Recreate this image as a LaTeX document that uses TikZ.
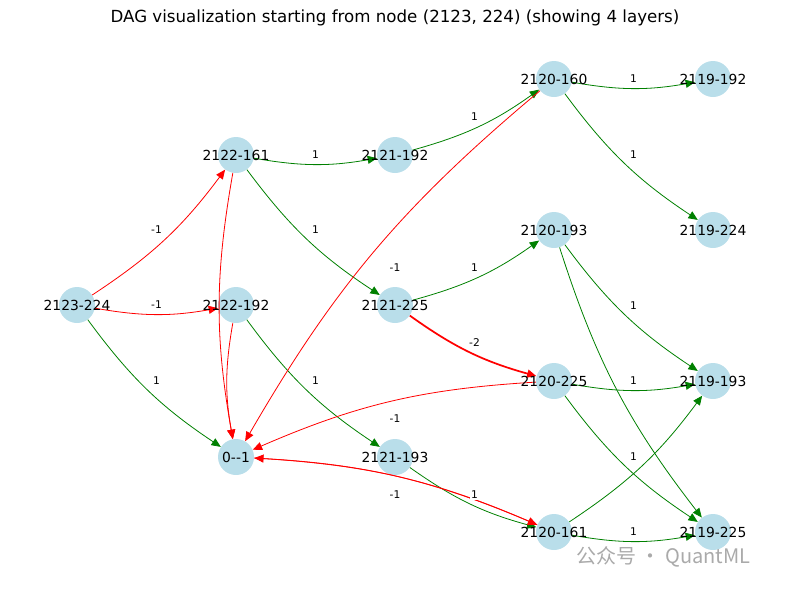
\documentclass[tikz,border=0pt]{standalone}
\usepackage{fontspec}
\setmainfont{DejaVu Sans}
\newfontfamily\cjk{Noto Sans CJK SC}
\usetikzlibrary{arrows.meta,calc}
\definecolor{nodeblue}{RGB}{173,216,230}
\definecolor{mgreen}{RGB}{0,128,0}
\definecolor{wmgray}{RGB}{170,170,170}
\tikzset{
  vtx/.style={circle,fill=nodeblue,fill opacity=0.85,minimum size=27pt,inner sep=0pt},
  vtxt/.style={font=\fontsize{10.4}{12}\selectfont,inner sep=0pt},
  posE/.style={draw=mgreen,line width=0.6pt,-{Triangle[length=7pt,width=6pt]},bend right=10},
  negE/.style={draw=red,line width=0.6pt,-{Triangle[length=7pt,width=6pt]},bend right=10},
  negTwo/.style={draw=red,line width=1.3pt,-{Triangle[length=7pt,width=6pt]},bend right=10},
  elab/.style={fill=white,inner sep=1pt,font=\fontsize{8}{9}\selectfont}
}
\newcommand{\elabel}[3]{\node[elab] at ($(#1)!0.5!(#2)$) {#3};}
\begin{document}
\begin{tikzpicture}[x=0.75pt,y=-0.75pt]
\useasboundingbox (0,0) rectangle (790,590);
\node[font=\fontsize{12.5}{14}\selectfont] (title) at (395,18) {DAG visualization starting from node (2123, 224) (showing 4 layers)};
\coordinate (a) at (77,305);
\coordinate (b1) at (236,155);
\coordinate (b2) at (236,305);
\coordinate (z) at (236,457);
\coordinate (c1) at (395,155);
\coordinate (c2) at (395,305);
\coordinate (c3) at (395,457);
\coordinate (d1) at (554,79);
\coordinate (d2) at (554,230);
\coordinate (d3) at (554,381);
\coordinate (d4) at (554,532);
\coordinate (e1) at (713,79);
\coordinate (e2) at (713,230);
\coordinate (e3) at (713,381);
\coordinate (e4) at (713,532);
% nodes (circles)
\foreach \n in {a,b1,b2,z,c1,c2,c3,d1,d2,d3,d4,e1,e2,e3,e4}
  \node[vtx] (N\n) at (\n) {};
% edges
\draw[negE] (Na) to (Nb1);
\draw[negE] (Na) to (Nb2);
\draw[posE] (Na) to (Nz);
\draw[posE] (Nb1) to (Nc1);
\draw[posE] (Nb1) to (Nc2);
\draw[negE] (Nb1) to (Nz);
\draw[negE] (Nb2) to (Nz);
\draw[posE] (Nb2) to (Nc3);
\draw[posE] (Nc1) to (Nd1);
\draw[posE] (Nc2) to (Nd2);
\draw[negTwo] (Nc2) to (Nd3);
\draw[posE] (Nc3) to (Nd4);
\draw[posE] (Nd1) to (Ne1);
\draw[posE] (Nd1) to (Ne2);
\draw[negE] (Nd1) to (Nz);
\draw[posE] (Nd2) to (Ne3);
\draw[posE] (Nd2) to (Ne4);
\draw[posE] (Nd3) to (Ne3);
\draw[posE] (Nd3) to (Ne4);
\draw[negE] (Nd3) to (Nz);
\draw[posE] (Nd4) to (Ne4);
\draw[posE] (Nd4) to (Ne3);
\draw[negE] (Nd4) to (Nz);
\draw[negE,bend right=0,bend left=10] (Nz) to (Nd4);
% node texts
\node[vtxt] (t1) at (a) {2123-224};
\node[vtxt] (t2) at (b1) {2122-161};
\node[vtxt] (t3) at (b2) {2122-192};
\node[vtxt] (t4) at (z) {0{-}{-}1};
\node[vtxt] (t5) at (c1) {2121-192};
\node[vtxt] (t6) at (c2) {2121-225};
\node[vtxt] (t7) at (c3) {2121-193};
\node[vtxt] (t8) at (d1) {2120-160};
\node[vtxt] (t9) at (d2) {2120-193};
\node[vtxt] (t10) at (d3) {2120-225};
\node[vtxt] (t11) at (d4) {2120-161};
\node[vtxt] (t12) at (e1) {2119-192};
\node[vtxt] (t13) at (e2) {2119-224};
\node[vtxt] (t14) at (e3) {2119-193};
\node[vtxt] (t15) at (e4) {2119-225};
% edge labels
\elabel{a}{b1}{-1}
\elabel{a}{b2}{-1}
\elabel{a}{z}{1}
\elabel{b1}{c1}{1}
\elabel{b1}{c2}{1}
\elabel{b2}{c3}{1}
\elabel{c1}{d1}{1}
\elabel{c2}{d2}{1}
\elabel{c2}{d3}{-2}
\elabel{c3}{d4}{1}
\elabel{d1}{e1}{1}
\elabel{d1}{e2}{1}
\elabel{d1}{z}{-1}
\elabel{d2}{e3}{1}
\elabel{d3}{e3}{1}
\elabel{d3}{e4}{1}
\elabel{d3}{z}{-1}
\elabel{d4}{e4}{1}
\elabel{d4}{z}{-1}
% watermark
\node[text=wmgray,font=\cjk\fontsize{15}{17}\selectfont,anchor=west,inner sep=0pt] (wm) at (576,557) {公众号 · QuantML};
\end{tikzpicture}
\end{document}
